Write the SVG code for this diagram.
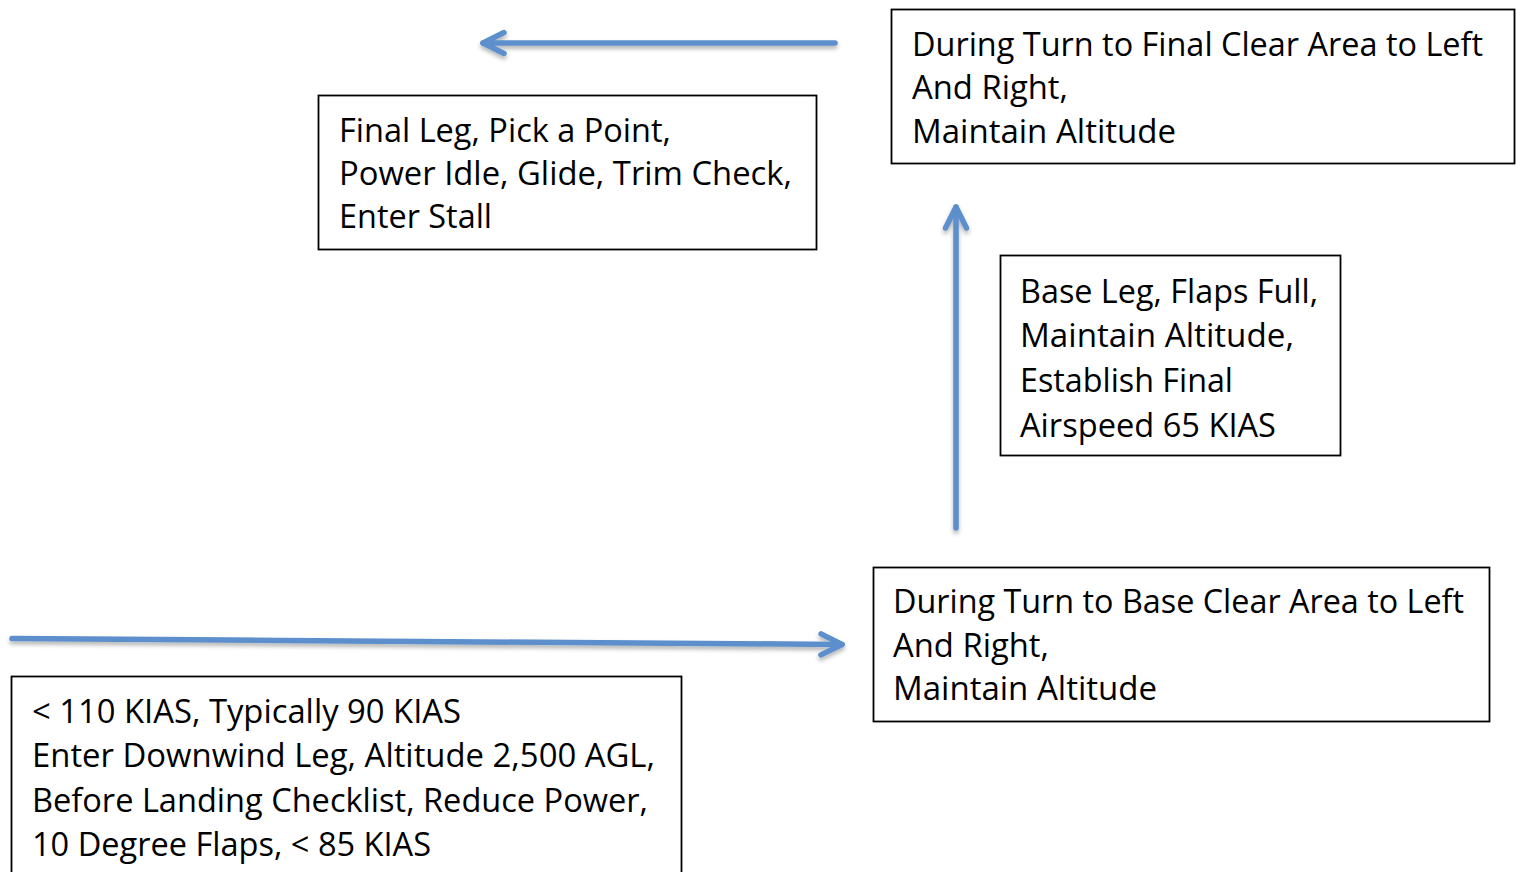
<svg xmlns="http://www.w3.org/2000/svg" width="1516" height="872" viewBox="0 0 1516 872">
<style>
.box{fill:#fff;stroke:#000;stroke-width:1.8}
.t{font-family:"Open Sans","Noto Sans",sans-serif;font-size:32px;fill:#000}
.conn{fill:none;stroke:#5b8fcb;stroke-width:5.5;stroke-linecap:round;stroke-linejoin:round}
</style>
<defs>
<filter id="sh" x="-5%" y="-50%" width="110%" height="200%">
<feDropShadow dx="0" dy="3" stdDeviation="2" flood-color="#000" flood-opacity="0.3"/>
</filter>
<marker id="ah" markerUnits="userSpaceOnUse" orient="auto" markerWidth="40" markerHeight="40" refX="30" refY="20" viewBox="0 0 40 40">
<path d="M9 9.5 L30 20 L9 30.5" fill="none" stroke="#5b8fcb" stroke-width="5.5" stroke-linecap="round" stroke-linejoin="round"/>
</marker>
</defs>
<rect width="1516" height="872" fill="#fff"/>
<g id="connectors" filter="url(#sh)">
<path class="conn" d="M835 43 L483 43" marker-end="url(#ah)"/>
<path class="conn" d="M956 528 L956 207" marker-end="url(#ah)"/>
<path class="conn" d="M12 638.5 L842 644.5" marker-end="url(#ah)"/>
</g>
<g id="turn-final">
<rect class="box" x="891.5" y="9.5" width="623" height="154"/>
<text class="t" x="912" y="56" textLength="571" lengthAdjust="spacingAndGlyphs">During Turn to Final Clear Area to Left</text>
<text class="t" x="912" y="99" textLength="156" lengthAdjust="spacingAndGlyphs">And Right,</text>
<text class="t" x="912" y="143" textLength="264" lengthAdjust="spacingAndGlyphs">Maintain Altitude</text>
</g>
<g id="final-leg">
<rect class="box" x="318.5" y="95.5" width="498" height="154"/>
<text class="t" x="339" y="142" textLength="332" lengthAdjust="spacingAndGlyphs">Final Leg, Pick a Point,</text>
<text class="t" x="339" y="185" textLength="453" lengthAdjust="spacingAndGlyphs">Power Idle, Glide, Trim Check,</text>
<text class="t" x="339" y="228" textLength="153" lengthAdjust="spacingAndGlyphs">Enter Stall</text>
</g>
<g id="base-leg">
<rect class="box" x="1000.5" y="255.5" width="340" height="200"/>
<text class="t" x="1020" y="303" textLength="298" lengthAdjust="spacingAndGlyphs">Base Leg, Flaps Full,</text>
<text class="t" x="1020" y="347" textLength="274" lengthAdjust="spacingAndGlyphs">Maintain Altitude,</text>
<text class="t" x="1020" y="392" textLength="213" lengthAdjust="spacingAndGlyphs">Establish Final</text>
<text class="t" x="1020" y="437" textLength="256" lengthAdjust="spacingAndGlyphs">Airspeed 65 KIAS</text>
</g>
<g id="turn-base">
<rect class="box" x="873.5" y="567.5" width="616" height="154"/>
<text class="t" x="893" y="613" textLength="571" lengthAdjust="spacingAndGlyphs">During Turn to Base Clear Area to Left</text>
<text class="t" x="893" y="657" textLength="156" lengthAdjust="spacingAndGlyphs">And Right,</text>
<text class="t" x="893" y="700" textLength="264" lengthAdjust="spacingAndGlyphs">Maintain Altitude</text>
</g>
<g id="downwind">
<rect class="box" x="11.5" y="676.5" width="670" height="220"/>
<text class="t" x="32" y="723" textLength="429" lengthAdjust="spacingAndGlyphs">&lt; 110 KIAS, Typically 90 KIAS</text>
<text class="t" x="32" y="767" textLength="623" lengthAdjust="spacingAndGlyphs">Enter Downwind Leg, Altitude 2,500 AGL,</text>
<text class="t" x="32" y="812" textLength="616" lengthAdjust="spacingAndGlyphs">Before Landing Checklist, Reduce Power,</text>
<text class="t" x="32" y="856" textLength="399" lengthAdjust="spacingAndGlyphs">10 Degree Flaps, &lt; 85 KIAS</text>
</g>
</svg>
